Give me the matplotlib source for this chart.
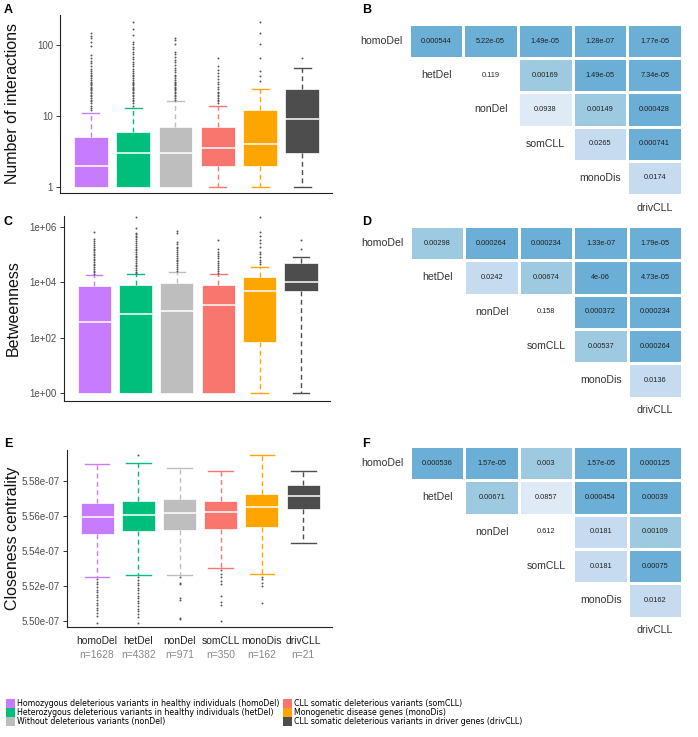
import numpy as np
import matplotlib.pyplot as plt
from matplotlib.colors import ListedColormap, BoundaryNorm
from matplotlib.patches import Patch
from matplotlib.ticker import FuncFormatter

plt.rcParams['font.family'] = ['Liberation Sans', 'DejaVu Sans']

# ---- data ----
groups = ['homoDel', 'hetDel', 'nonDel', 'somCLL', 'monoDis', 'drivCLL']
group_n = [1628, 4382, 971, 350, 162, 21]
colors = ['#C77CFF', '#00BF7D', '#BEBEBE', '#F8766D', '#FFA500', '#4D4D4D']
legend_labels = [
    'Homozygous deleterious variants in healthy individuals (homoDel)',
    'Heterozygous deleterious variants in healthy individuals (hetDel)',
    'Without deleterious variants (nonDel)',
    'CLL somatic deleterious variants (somCLL)',
    'Monogenetic disease genes (monoDis)',
    'CLL somatic deleterious variants in driver genes (drivCLL)',
]

# A: number of interactions
inter_q1 = [1, 1, 1, 2, 2, 3]
inter_med = [2, 3, 3, 3.5, 4, 9]
inter_q3 = [5, 6, 7, 7, 12, 24]
inter_lo = [1, 1, 1, 1, 1, 1]
inter_hi = [11, 13, 16, 14, 24, 47]
inter_out = [
    [12, 13, 14, 15, 16, 17, 18, 19, 20, 21, 22, 23, 24, 25, 26, 27, 28, 29, 30, 32,
     34, 36, 38, 40, 43, 46, 50, 55, 60, 66, 72, 96, 110, 124, 136, 146],
    [14, 15, 16, 17, 18, 19, 20, 21, 22, 23, 24, 25, 26, 27, 28, 29, 30, 32, 34, 36,
     38, 40, 43, 46, 50, 54, 58, 63, 68, 74, 80, 87, 95, 103, 112, 140, 170, 211],
    [17, 18, 19, 20, 21, 22, 23, 24, 25, 26, 27, 28, 29, 30, 32, 34, 36, 38, 41, 44,
     48, 52, 57, 62, 68, 75, 80, 105, 118, 127],
    [15, 16, 17, 18, 19, 20, 21, 22, 24, 26, 28, 30, 33, 36, 40, 45, 50, 65],
    [31, 36, 43, 66, 102, 146, 213],
    [65],
]

# C: betweenness
betw_q1 = [1, 1, 1, 1, 68, 4800]
betw_med = [355, 730, 915, 1550, 4900, 10500]
betw_q3 = [7300, 7700, 9600, 8100, 15800, 48000]
betw_lo = [1, 1, 1, 1, 1, 1]
betw_hi = [17800, 19300, 23400, 19300, 36000, 79000]
betw_out = [
    [2.0e4, 2.3e4, 2.6e4, 3.0e4, 3.5e4, 4.0e4, 4.6e4, 5.3e4, 6.1e4, 7.0e4, 8.1e4,
     9.3e4, 1.07e5, 1.23e5, 1.42e5, 1.63e5, 1.9e5, 2.2e5, 2.6e5, 3.0e5, 3.6e5, 6.6e5],
    [2.1e4, 2.4e4, 2.8e4, 3.2e4, 3.7e4, 4.3e4, 5.0e4, 5.8e4, 6.7e4, 7.8e4, 9.0e4,
     1.05e5, 1.2e5, 1.4e5, 1.6e5, 1.9e5, 2.2e5, 2.6e5, 3.0e5, 3.5e5, 4.1e5, 4.8e5,
     5.6e5, 6.2e5, 8.9e5, 2.2e6],
    [2.6e4, 3.0e4, 3.5e4, 4.1e4, 4.8e4, 5.6e4, 6.5e4, 7.6e4, 8.8e4, 1.03e5, 1.2e5,
     1.4e5, 1.65e5, 1.9e5, 2.3e5, 2.9e5, 5.8e5, 7.2e5],
    [2.1e4, 2.5e4, 3.0e4, 3.5e4, 4.2e4, 5.0e4, 6.0e4, 7.2e4, 8.5e4, 1.0e5, 1.2e5,
     1.55e5, 3.2e5],
    [4.5e4, 5.5e4, 6.5e4, 8.3e4, 1.0e5, 1.26e5, 1.9e5, 2.6e5, 3.3e5, 4.5e5, 6.6e5, 2.2e6],
    [1.55e5, 3.2e5],
]

# E: closeness centrality
clos_q1 = [5.5499e-07, 5.5514e-07, 5.5524e-07, 5.5528e-07, 5.5538e-07, 5.5640e-07]
clos_med = [5.5593e-07, 5.5607e-07, 5.5620e-07, 5.5624e-07, 5.5653e-07, 5.5716e-07]
clos_q3 = [5.5674e-07, 5.5685e-07, 5.5699e-07, 5.5690e-07, 5.5726e-07, 5.5782e-07]
clos_lo = [5.5253e-07, 5.5263e-07, 5.5263e-07, 5.5301e-07, 5.5269e-07, 5.5448e-07]
clos_hi = [5.5899e-07, 5.5904e-07, 5.5874e-07, 5.5857e-07, 5.5951e-07, 5.5857e-07]
clos_out = [
    [5.5240e-07, 5.5225e-07, 5.5210e-07, 5.5195e-07, 5.5180e-07, 5.5165e-07, 5.5150e-07,
     5.5135e-07, 5.5120e-07, 5.5105e-07, 5.5090e-07, 5.5075e-07, 5.5060e-07, 5.5045e-07,
     5.5030e-07, 5.4987e-07],
    [5.5950e-07, 5.5250e-07, 5.5235e-07, 5.5220e-07, 5.5205e-07, 5.5190e-07, 5.5175e-07,
     5.5160e-07, 5.5145e-07, 5.5130e-07, 5.5115e-07, 5.5100e-07, 5.5085e-07, 5.5070e-07,
     5.5055e-07, 5.5040e-07, 5.5025e-07, 5.4987e-07],
    [5.5250e-07, 5.5220e-07, 5.5210e-07, 5.5131e-07, 5.5120e-07, 5.5016e-07, 5.5012e-07],
    [5.5290e-07, 5.5270e-07, 5.5250e-07, 5.5230e-07, 5.5210e-07, 5.5140e-07, 5.5110e-07,
     5.5090e-07, 5.5000e-07],
    [5.5250e-07, 5.5240e-07, 5.5220e-07, 5.5200e-07, 5.5105e-07],
    [],
]

# pairwise p-values (rows homoDel..monoDis, columns hetDel..drivCLL)
nan = np.nan
pval_inter = [
    [0.000544, 5.22e-05, 1.49e-05, 1.28e-07, 1.77e-05],
    [nan, 0.119, 0.00169, 1.49e-05, 7.34e-05],
    [nan, nan, 0.0938, 0.00149, 0.000428],
    [nan, nan, nan, 0.0265, 0.000741],
    [nan, nan, nan, nan, 0.0174],
]
pval_betw = [
    [0.00298, 0.000264, 0.000234, 1.33e-07, 1.79e-05],
    [nan, 0.0242, 0.00674, 4e-06, 4.73e-05],
    [nan, nan, 0.158, 0.000372, 0.000234],
    [nan, nan, nan, 0.00537, 0.000264],
    [nan, nan, nan, nan, 0.0136],
]
pval_clos = [
    [0.000536, 1.57e-05, 0.003, 1.57e-05, 0.000125],
    [nan, 0.00671, 0.0857, 0.000454, 0.00039],
    [nan, nan, 0.612, 0.0181, 0.00109],
    [nan, nan, nan, 0.0181, 0.00075],
    [nan, nan, nan, nan, 0.0162],
]

# ---- figure ----
W, H = 698, 737
fig = plt.figure(figsize=(W / 100, H / 100), dpi=100)


def px_axes(x0, y0, x1, y1):
    return fig.add_axes([x0 / W, 1 - y1 / H, (x1 - x0) / W, (y1 - y0) / H])


def box_panel(ax, q1, med, q3, lo, hi, out, capw):
    stats = [dict(q1=a, med=b, q3=c, whislo=d, whishi=e, fliers=f)
             for a, b, c, d, e, f in zip(q1, med, q3, lo, hi, out)]
    bp = ax.bxp(stats, positions=range(1, 7), widths=0.8, patch_artist=True,
                capwidths=capw,
                medianprops=dict(color='white', lw=1.1),
                flierprops=dict(marker='o', markersize=1.4, markerfacecolor='#555555',
                                markeredgewidth=0, linestyle='none'))
    for i, c in enumerate(colors):
        bp['boxes'][i].set(facecolor=c, edgecolor='white', linewidth=0.5)
        for k in (0, 1):
            bp['whiskers'][2 * i + k].set(color=c, linestyle=(0, (3.5, 2.5)), lw=1.0)
            bp['caps'][2 * i + k].set(color=c, lw=1.0)
        if lo[i] >= q1[i]:
            bp['caps'][2 * i].set_visible(False)
            bp['whiskers'][2 * i].set_visible(False)
    ax.set_xlim(0.27, 6.7)
    for s in ('top', 'right'):
        ax.spines[s].set_visible(False)
    for s in ('left', 'bottom'):
        ax.spines[s].set_linewidth(0.8)
        ax.spines[s].set_color('#222222')
    ax.tick_params(axis='x', length=0, labelbottom=False)
    ax.tick_params(axis='y', length=3, width=0.7, color='#333333',
                   labelsize=7, labelcolor='#4D4D4D', pad=2)
    ax.minorticks_off()


# A
axA = px_axes(60, 15, 332, 193)
box_panel(axA, inter_q1, inter_med, inter_q3, inter_lo, inter_hi, inter_out, 0.4)
axA.set_yscale('log')
axA.set_ylim(0.82, 265)
axA.set_yticks([1, 10, 100])
axA.set_yticklabels(['1', '10', '100'])
axA.minorticks_off()

# C
axC = px_axes(64, 216, 330, 401)
box_panel(axC, betw_q1, betw_med, betw_q3, betw_lo, betw_hi, betw_out, 0.4)
axC.set_yscale('log')
axC.set_ylim(0.51, 2.45e6)
axC.set_yticks([1, 1e2, 1e4, 1e6])
axC.yaxis.set_major_formatter(FuncFormatter(lambda v, p: f'{v:.0e}'))
axC.minorticks_off()

# E
axE = px_axes(67, 450, 332, 627)
box_panel(axE, clos_q1, clos_med, clos_q3, clos_lo, clos_hi, clos_out, 0.6)
axE.set_ylim(5.4965e-07, 5.598e-07)
axE.set_yticks([5.50e-07, 5.52e-07, 5.54e-07, 5.56e-07, 5.58e-07])
axE.yaxis.set_major_formatter(FuncFormatter(lambda v, p: f'{v:.2e}'))
for i, (g, n) in enumerate(zip(groups, group_n)):
    axE.text(i + 1, -0.079, g, transform=axE.get_xaxis_transform(),
             ha='center', va='center', fontsize=7.4, color='#222222')
    axE.text(i + 1, -0.158, f'n={n}', transform=axE.get_xaxis_transform(),
             ha='center', va='center', fontsize=7.4, color='#888888')

# y labels
for ax, lab in ((axA, 'Number of interactions'), (axC, 'Betweenness'),
                (axE, 'Closeness centrality')):
    pos = ax.get_position()
    fig.text(13 / W, pos.y0 + pos.height / 2, lab, rotation=90,
             ha='center', va='center', fontsize=11.5, color='#111111')

# heatmaps
cmap = ListedColormap(['#6BAED6', '#9ECAE1', '#C6DBEF', '#DEEBF7', '#FFFFFF'])
norm = BoundaryNorm([0, 0.001, 0.01, 0.05, 0.1, 1.0], cmap.N)


def heat_panel(ax, mat):
    m = np.ma.masked_invalid(np.array(mat, dtype=float))
    ax.pcolormesh(np.arange(1, 7), np.arange(0, 6), m, cmap=cmap, norm=norm,
                  edgecolors='white', linewidth=0.8)
    for i in range(5):
        for j in range(5):
            v = mat[i][j]
            if not np.isnan(v):
                ax.text(j + 1.5, i + 0.5, f'{v:.3g}', ha='center', va='center',
                        fontsize=5.3, color='#222222')
        ax.text(i + 0.5, i + 0.5, groups[i], ha='center', va='center',
                fontsize=7.6, color='#333333')
    ax.text(5.5, 5.37, groups[5], ha='center', va='center', fontsize=7.6, color='#333333')
    ax.set_xlim(0, 6)
    ax.set_ylim(6, 0)
    ax.axis('off')


axB = px_axes(354, 24, 682, 229.2)
heat_panel(axB, pval_inter)
axD = px_axes(355.5, 226, 682.3, 431.8)
heat_panel(axD, pval_betw)
axF = px_axes(355.5, 446, 682.3, 651.8)
heat_panel(axF, pval_clos)

# panel letters
for lab, x, y in (('A', 4, 4), ('B', 362, 4), ('C', 3, 216), ('D', 362, 216),
                  ('E', 4, 438), ('F', 362, 438)):
    fig.text(x / W, 1 - y / H, lab, ha='left', va='top', fontsize=9, fontweight='bold')

# legend
handles = [Patch(facecolor=c, edgecolor='none') for c in colors]
leg_kw = dict(loc='upper left', frameon=False, prop=dict(family='DejaVu Sans', size=5.65),
              handlelength=1.1, handleheight=1.38, handletextpad=0.3,
              labelspacing=0.0, borderpad=0.0, borderaxespad=0.0)
fig.legend(handles[:3], legend_labels[:3], bbox_to_anchor=(6 / W, 1 - 699 / H), **leg_kw)
fig.legend(handles[3:], legend_labels[3:], bbox_to_anchor=(283 / W, 1 - 699 / H), **leg_kw)

fig.savefig('out.png', dpi=100)
